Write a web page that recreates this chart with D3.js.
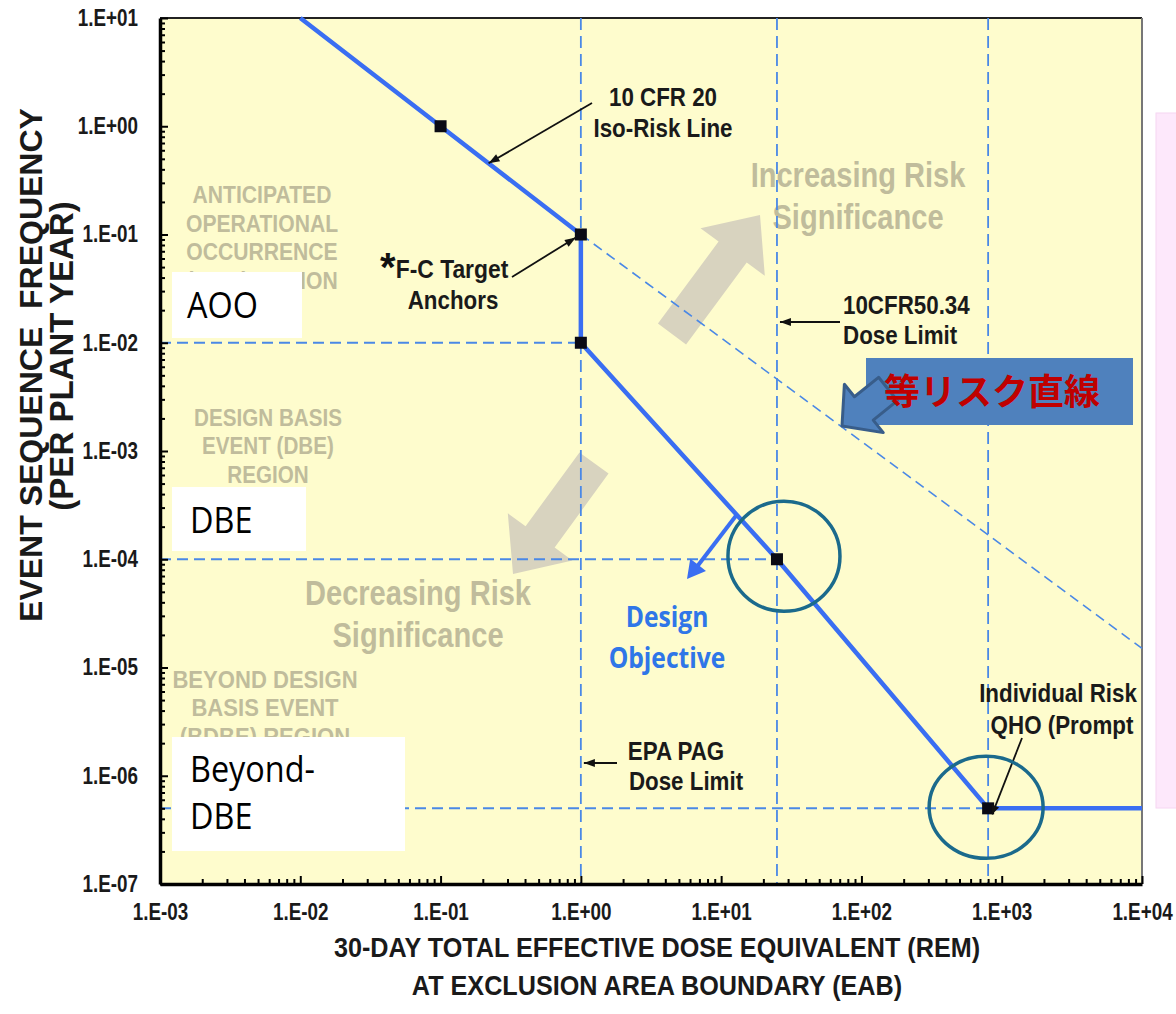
<!DOCTYPE html>
<html>
<head>
<meta charset="utf-8">
<script src="https://cdn.jsdelivr.net/npm/d3@7"></script>
<style>
  body { margin: 0; background: #fff; }
  svg { display: block; }
  text { font-family: 'Liberation Sans', Arial, sans-serif; font-weight: bold; }
</style>
</head>
<body>
<svg id="chart"></svg>
<script>
// axis ticks
const xTickValues = [1e-3, 1e-2, 1e-1, 1e0, 1e1, 1e2, 1e3, 1e4]
const xTickLabels = ["1.E-03", "1.E-02", "1.E-01", "1.E+00", "1.E+01", "1.E+02", "1.E+03", "1.E+04"]
const yTickValues = [1e1, 1e0, 1e-1, 1e-2, 1e-3, 1e-4, 1e-5, 1e-6, 1e-7]
const yTickLabels = ["1.E+01", "1.E+00", "1.E-01", "1.E-02", "1.E-03", "1.E-04", "1.E-05", "1.E-06", "1.E-07"]

// F-C target curve: dose (rem) vs frequency (per plant year)
const curveDose = [0.01, 0.1, 1, 1, 25, 800, 10000]
const curveFreq = [10, 1, 0.1, 0.01, 1e-4, 5e-7, 5e-7]

// anchors (black squares)
const anchorDose = [0.1, 1, 1, 25, 800]
const anchorFreq = [1, 0.1, 0.01, 1e-4, 5e-7]

// iso-risk line continued (dashed)
const isoDose = [1, 10000]
const isoFreq = [0.1, 1.5e-5]

// dose limits (vertical dashed lines)
const doseLimits = [1, 25, 800]
// frequency boundaries (horizontal dashed lines) and the dose where each stops
const freqLines = [1e-2, 1e-4, 5e-7]
const freqLineEnd = [1, 25, 800]

let width = 1176
let height = 1014
let margin = { top: 18, right: 34, bottom: 130, left: 160 }

let svg = d3.select("#chart")
  .attr("width", width)
  .attr("height", height)

let x = d3.scaleLog()
  .domain([1e-3, 1e4])
  .range([margin.left, width - margin.right])

let y = d3.scaleLog()
  .domain([1e-7, 1e1])
  .range([height - margin.bottom, margin.top])

const blue = "#3a6ef2"
const dashBlue = "#4a88e6"
const greyText = "#c0bc9c"
const greyArrow = "#d8d3bf"
const ink = "#1a1a1a"

// pink box on the right edge
svg.append("rect")
  .attr("x", 1156).attr("y", 113)
  .attr("width", 24).attr("height", 695)
  .attr("fill", "#fde8fb")
  .attr("stroke", "#f6d6f2")

// plot background
svg.append("rect")
  .attr("x", x(1e-3)).attr("y", y(1e1))
  .attr("width", x(1e4) - x(1e-3))
  .attr("height", y(1e-7) - y(1e1))
  .attr("fill", "#fefccd")

// top and right frame
svg.append("line")
  .attr("x1", x(1e-3)).attr("x2", x(1e4))
  .attr("y1", y(1e1)).attr("y2", y(1e1))
  .attr("stroke", "#222").attr("stroke-width", 2)
svg.append("line")
  .attr("x1", x(1e4)).attr("x2", x(1e4))
  .attr("y1", y(1e1)).attr("y2", y(1e-7))
  .attr("stroke", "#777").attr("stroke-width", 2)

// text squeezed sideways to look like the narrow face in the original
function narrowText(lines, tx, y0, dy, size, color, sx, anchor) {
  let g = svg.append("g")
    .attr("transform", "translate(" + tx + ",0) scale(" + sx + ",1)")
  let t = g.append("text")
    .attr("text-anchor", anchor || "middle")
    .attr("font-size", size)
    .attr("fill", color)
  lines.forEach(function(l, i) {
    t.append("tspan").attr("x", 0).attr("y", y0 + i * dy).text(l)
  })
  return t
}

// grey region labels
narrowText(["ANTICIPATED", "OPERATIONAL", "OCCURRENCE", "(AOO) REGION"], 262, 203, 28.7, 24, greyText, 0.88)
narrowText(["DESIGN BASIS", "EVENT (DBE)", "REGION"], 268, 426, 28.5, 24, greyText, 0.86)
narrowText(["BEYOND DESIGN", "BASIS EVENT", "(BDBE) REGION"], 265, 688, 28.5, 24, greyText, 0.92)
narrowText(["Increasing Risk", "Significance"], 858, 187, 42, 35, greyText, 0.83)
narrowText(["Decreasing Risk", "Significance"], 418, 605, 42, 35, greyText, 0.83)

// big grey arrows
function blockArrow(tail, tip, shaftW, headW, headL) {
  let dx = tip[0] - tail[0], dy = tip[1] - tail[1]
  let len = Math.sqrt(dx * dx + dy * dy)
  let ux = dx / len, uy = dy / len
  let nx = -uy, ny = ux
  let bx = tip[0] - ux * headL, by = tip[1] - uy * headL
  let pts = [
    [tail[0] + nx * shaftW / 2, tail[1] + ny * shaftW / 2],
    [bx + nx * shaftW / 2, by + ny * shaftW / 2],
    [bx + nx * headW / 2, by + ny * headW / 2],
    tip,
    [bx - nx * headW / 2, by - ny * headW / 2],
    [bx - nx * shaftW / 2, by - ny * shaftW / 2],
    [tail[0] - nx * shaftW / 2, tail[1] - ny * shaftW / 2]
  ]
  return pts.map(function(p) { return p.join(",") }).join(" ")
}

svg.append("polygon")
  .attr("points", blockArrow([672, 334], [760, 215], 35, 80, 46))
  .attr("fill", greyArrow)
svg.append("polygon")
  .attr("points", blockArrow([594, 463], [513, 574], 36, 80, 46))
  .attr("fill", greyArrow)

// dashed reference lines
let line = d3.line()
  .x(function(d) { return x(d[0]) })
  .y(function(d) { return y(d[1]) })

doseLimits.forEach(function(d) {
  svg.append("line")
    .attr("x1", x(d)).attr("x2", x(d))
    .attr("y1", y(1e1)).attr("y2", y(1e-7))
    .attr("stroke", dashBlue).attr("stroke-width", 1.8)
    .attr("stroke-dasharray", "12,6")
})

freqLines.forEach(function(f, i) {
  svg.append("line")
    .attr("x1", x(1e-3)).attr("x2", x(freqLineEnd[i]))
    .attr("y1", y(f)).attr("y2", y(f))
    .attr("stroke", dashBlue).attr("stroke-width", 2)
    .attr("stroke-dasharray", "11,6")
})

svg.append("path")
  .datum(isoDose.map(function(d, i) { return [d, isoFreq[i]] }))
  .attr("d", line)
  .attr("fill", "none")
  .attr("stroke", dashBlue).attr("stroke-width", 1.6)
  .attr("stroke-dasharray", "10,6")

// F-C curve
svg.append("path")
  .datum(curveDose.map(function(d, i) { return [d, curveFreq[i]] }))
  .attr("d", line)
  .attr("fill", "none")
  .attr("stroke", blue)
  .attr("stroke-width", 4.5)
  .attr("stroke-linejoin", "round")

// anchor squares
svg.selectAll(".anchor")
  .data(anchorDose)
  .enter()
  .append("rect")
  .attr("class", "anchor")
  .attr("x", function(d) { return x(d) - 6 })
  .attr("y", function(d, i) { return y(anchorFreq[i]) - 6 })
  .attr("width", 12).attr("height", 12)
  .attr("fill", "#0a0a14")

// axes
let minor = []
for (let e = -7; e < 4; e++) {
  for (let k = 2; k < 10; k++) minor.push(k * Math.pow(10, e))
}

const tickSx = 0.82

let xAxis = d3.axisBottom(x)
  .tickValues(xTickValues)
  .tickFormat(function(d, i) { return xTickLabels[i] })
  .tickSize(-8)
  .tickSizeOuter(0)
  .tickPadding(20)

let yAxis = d3.axisLeft(y)
  .tickValues(yTickValues)
  .tickFormat(function(d, i) { return yTickLabels[i] })
  .tickSize(-8)
  .tickSizeOuter(0)
  .tickPadding(22)

let gx = svg.append("g")
  .attr("id", "x-axis")
  .attr("transform", "translate(0," + y(1e-7) + ")")
  .call(xAxis)
gx.append("g")
  .call(d3.axisBottom(x).tickValues(minor.filter(function(d) { return d > 1e-3 && d < 1e4 })).tickSize(-5).tickFormat(""))
  .select(".domain").remove()

let gy = svg.append("g")
  .attr("id", "y-axis")
  .attr("transform", "translate(" + x(1e-3) + ",0)")
  .call(yAxis)
gy.append("g")
  .call(d3.axisLeft(y).tickValues(minor.filter(function(d) { return d > 1e-7 && d < 1e1 })).tickSize(-5).tickFormat(""))
  .select(".domain").remove()

svg.selectAll("#x-axis .domain, #y-axis .domain")
  .attr("stroke", "#000").attr("stroke-width", 3.5)
svg.selectAll("#x-axis .tick line, #y-axis .tick line")
  .attr("stroke", "#000").attr("stroke-width", 2)
svg.selectAll("#x-axis text, #y-axis text")
  .attr("font-size", 23)
  .attr("fill", ink)
  .style("font-family", "'Liberation Sans', Arial, sans-serif")
  .style("font-weight", "bold")
gx.selectAll("text").attr("transform", "scale(" + tickSx + ",1)")
gy.selectAll("text")
  .attr("x", -22 / tickSx)
  .attr("transform", "scale(" + tickSx + ",1)")

// axis titles
narrowText(["30-DAY TOTAL EFFECTIVE DOSE EQUIVALENT (REM)", "AT EXCLUSION AREA BOUNDARY (EAB)"], 657, 957, 38, 28, ink, 0.9)

svg.append("text")
  .attr("transform", "translate(42,365) rotate(-90)")
  .attr("text-anchor", "middle")
  .attr("font-size", 32)
  .attr("fill", ink)
  .style("white-space", "pre")
  .text("EVENT SEQUENCE  FREQUENCY")
svg.append("text")
  .attr("transform", "translate(73,356) rotate(-90)")
  .attr("text-anchor", "middle")
  .attr("font-size", 33)
  .attr("fill", ink)
  .text("(PER PLANT YEAR)")

// black annotations
function pointer(x1, y1, x2, y2, head) {
  svg.append("line")
    .attr("x1", x1).attr("y1", y1).attr("x2", x2).attr("y2", y2)
    .attr("stroke", "#111").attr("stroke-width", 1.8)
  let a = Math.atan2(y2 - y1, x2 - x1)
  let h = head || 11
  let p1 = [x2 - h * Math.cos(a) + 4 * Math.sin(a), y2 - h * Math.sin(a) - 4 * Math.cos(a)]
  let p2 = [x2 - h * Math.cos(a) - 4 * Math.sin(a), y2 - h * Math.sin(a) + 4 * Math.cos(a)]
  svg.append("polygon")
    .attr("points", [[x2, y2], p1, p2].map(function(p) { return p.join(",") }).join(" "))
    .attr("fill", "#111")
}

const noteSx = 0.86

narrowText(["10 CFR 20", "Iso-Risk Line"], 663, 106, 31, 26, ink, noteSx)
pointer(592, 103, x(0.22), y(0.1 / 0.22))

svg.append("text").attr("x", 380).attr("y", 281).attr("font-size", 40).attr("fill", "#111").text("*")
narrowText(["F-C Target"], 452, 278, 31, 26, ink, 0.88)
narrowText(["Anchors"], 453, 309, 31, 26, ink, 0.86)
pointer(512, 277, x(1) - 5, y(0.1) + 3)

narrowText(["10CFR50.34", "Dose Limit"], 843, 314, 30, 26, ink, noteSx, "start")
pointer(840, 322, x(25) + 3, 322)

narrowText(["EPA PAG"], 676, 760, 31, 26, ink, noteSx)
narrowText(["Dose Limit"], 686, 790, 31, 26, ink, noteSx)
pointer(617, 763, x(1) + 3, 763)

narrowText(["Individual Risk"], 1058, 702, 31, 26, ink, noteSx)
narrowText(["QHO (Prompt"], 1062, 734, 31, 26, ink, noteSx)
pointer(1022, 738, x(800) + 4, y(5e-7) + 6, 9)

// design objective
svg.append("line")
  .attr("x1", x(13)).attr("y1", y(2.6e-4))
  .attr("x2", 696).attr("y2", 568)
  .attr("stroke", blue).attr("stroke-width", 4)
svg.append("polygon")
  .attr("points", blockArrow([698, 565], [687, 579], 0, 20, 18))
  .attr("fill", blue)
let dObj = svg.append("g").attr("transform", "translate(667,0) scale(0.88,1)")
  .append("text")
  .attr("text-anchor", "middle")
  .attr("font-size", 28)
  .attr("fill", "#2f76e8")
  .style("font-family", "'Open Sans', sans-serif")
dObj.selectAll("tspan")
  .data(["Design", "Objective"])
  .enter()
  .append("tspan")
  .attr("x", 0)
  .attr("y", function(d, i) { return 627 + i * 41 })
  .text(function(d) { return d })

// teal circles around the key anchors
svg.append("ellipse")
  .attr("cx", x(25) + 7).attr("cy", y(1e-4) - 3)
  .attr("rx", 56).attr("ry", 55)
  .attr("fill", "none").attr("stroke", "#1b6a8c").attr("stroke-width", 3.5)
svg.append("ellipse")
  .attr("cx", x(800) - 2).attr("cy", y(5e-7) - 1)
  .attr("rx", 57).attr("ry", 51)
  .attr("fill", "none").attr("stroke", "#1b6a8c").attr("stroke-width", 3.5)

// white label boxes
function whiteBox(bx, by, bw, bh, lines, tx, ty) {
  svg.append("rect")
    .attr("x", bx).attr("y", by).attr("width", bw).attr("height", bh)
    .attr("fill", "#fff")
  let t = svg.append("g")
    .attr("transform", "translate(" + tx + ",0) scale(0.9,1)")
    .append("text")
    .attr("font-size", 36)
    .attr("fill", "#000")
    .style("font-family", "'Open Sans', sans-serif")
    .style("font-weight", "normal")
  lines.forEach(function(l, i) {
    t.append("tspan").attr("x", 0).attr("y", ty + i * 47).text(l)
  })
}

whiteBox(172, 272, 130, 66, ["AOO"], 187, 318)
whiteBox(172, 487, 134, 64, ["DBE"], 190, 533)
whiteBox(172, 737, 233, 114, ["Beyond-", "DBE"], 190, 782)

// japanese callout
svg.append("rect")
  .attr("x", 866).attr("y", 358)
  .attr("width", 267).attr("height", 67)
  .attr("fill", "#4f81bd")
svg.append("polygon")
  .attr("points", blockArrow([888, 389], [842, 426], 30, 62, 28))
  .attr("fill", "#4f81bd")
  .attr("stroke", "#385d8a")
  .attr("stroke-width", 3)
  .attr("stroke-linejoin", "round")
svg.append("text")
  .attr("x", 884).attr("y", 405)
  .attr("font-size", 36)
  .attr("fill", "#c00000")
  .style("font-family", "'Noto Sans CJK JP', sans-serif")
  .text("等リスク直線")
</script>
</body>
</html>
